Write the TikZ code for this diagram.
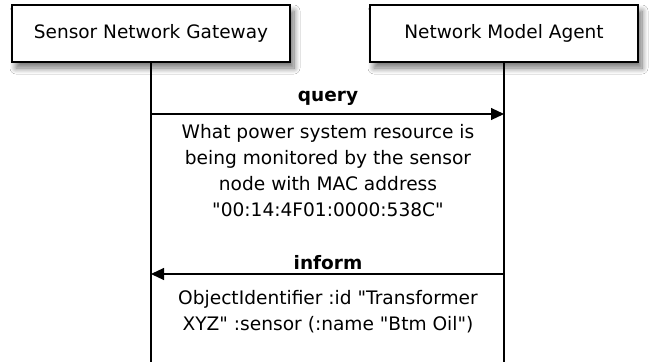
\documentclass[tikz,border=0pt]{standalone}
\usepackage{fontspec}
\setmainfont{DejaVu Sans}[Ligatures=TeXOff]
\usetikzlibrary{arrows.meta,shadows.blur}
\tikzset{
  actor/.style={draw=black, line width=1.2pt, fill=white, minimum height=57pt,
    font=\fontsize{18.5}{26}\selectfont, inner sep=0pt,
    blur shadow={shadow xshift=4pt, shadow yshift=-6pt, shadow blur radius=6pt, shadow blur steps=10, shadow opacity=55}},
  lifeline/.style={line width=1.1pt},
  msg/.style={line width=1.1pt, -{Triangle[length=13pt,width=12pt]}},
  msglabel/.style={font=\fontsize{18.5}{26}\selectfont\bfseries, inner sep=0pt},
  msgtext/.style={font=\fontsize{18.6}{26}\selectfont, align=center, inner sep=0pt, anchor=north}
}
\begin{document}
\begin{tikzpicture}[x=1pt,y=-1pt]
\useasboundingbox[fill=white] (0,0) rectangle (649,362);
\node[actor, minimum width=278pt] (sng) at (151,33.5) {Sensor Network Gateway};
\node[actor, minimum width=268pt] (nma) at (504,33.5) {Network Model Agent};
\coordinate (sngend) at (sng.south |- 0,362);
\coordinate (nmaend) at (nma.south |- 0,362);
\draw[lifeline] (sng.south) -- (sngend);
\draw[lifeline] (nma.south) -- (nmaend);
\coordinate (q1) at (sng.south |- 0,114);
\coordinate (q2) at (nma.south |- 0,114);
\draw[msg] (q1) -- (q2);
\node[msglabel] (ql) at (328,98) {query};
\node[msgtext] (qt) at (328,124) {What power system resource is\\being monitored by the sensor\\node with MAC address\\"00:14:4F01:0000:538C"};
\coordinate (i1) at (nma.south |- 0,274);
\coordinate (i2) at (sng.south |- 0,274);
\draw[msg] (i1) -- (i2);
\node[msglabel] (il) at (328,263) {inform};
\node[msgtext] (it) at (328,290) {ObjectIdentifier :id "Transformer\\XYZ" :sensor (:name "Btm Oil")};
\end{tikzpicture}
\end{document}
